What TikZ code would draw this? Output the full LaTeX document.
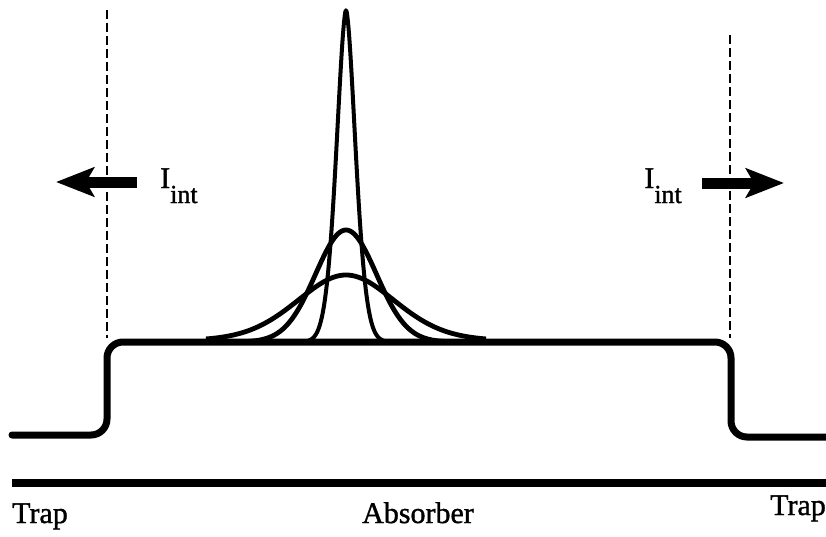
\documentclass[tikz,border=0pt]{standalone}
\usepackage{fontspec}
\setmainfont{Liberation Serif}[FakeBold=1.2]
\usetikzlibrary{arrows.meta}
\begin{document}
\begin{tikzpicture}[x=1pt,y=-1pt,
  profile/.style={line width=7pt,rounded corners=16pt,line cap=round},
  peak/.style={line width=4.8pt,line join=round},
  boundary/.style={line width=2.4pt,dash pattern=on 9pt off 4pt},
  flux/.style={line width=11pt,-{Stealth[length=38pt,width=29pt,inset=8pt]}},
  lbl/.style={inner sep=0pt,font=\fontsize{30}{33}\selectfont}]
\useasboundingbox (0,0) rectangle (826,536);
% coordinates
\coordinate (l0) at (12,435);
\coordinate (l1) at (107,435);
\coordinate (l2) at (107,342);
\coordinate (r2) at (731,342);
\coordinate (r1) at (731,437);
\coordinate (r0) at (826,437);
\coordinate (dlt) at (107,10);
\coordinate (dlb) at (107,338);
\coordinate (drt) at (730,35);
\coordinate (drb) at (730,338);
\coordinate (bl) at (12,483);
\coordinate (br) at (826,483);
\coordinate (al0) at (137,182);
\coordinate (al1) at (56,182);
\coordinate (ar0) at (702,183);
\coordinate (ar1) at (784,183);
% boundaries
\draw[boundary] (dlt) -- (dlb);
\draw[boundary] (drt) -- (drb);
% profile
\draw[profile] (l0) -- (l1) -- (l2) -- (r2) -- (r1) -- (r0);
% bottom bar
\draw[line width=8pt] (bl) -- (br);
% peaks
\draw[peak] plot[domain=206:486,samples=140] (\x,{342-67*(0.8*exp(-((\x-346)/70)^2)+0.2/(1+((\x-346)/60)^2))});
\draw[peak] plot[domain=226:466,samples=140] (\x,{342-112*exp(-((\x-346)/43)^2)});
\draw[peak,line width=4pt] plot[domain=304:388,samples=160] (\x,{342-332*exp(-(abs(\x-346)/13.8)^1.7)});
% arrows
\draw[flux] (al0) -- (al1);
\draw[flux] (ar0) -- (ar1);
% labels
\node[lbl,anchor=base west] (il) at (160,188) {I\raisebox{-15pt}{\fontsize{26}{28}\selectfont int}};
\node[lbl,anchor=base east] (ir) at (682,188) {I\raisebox{-15pt}{\fontsize{26}{28}\selectfont int}};
\node[lbl,anchor=base west] (tl) at (12,523) {Trap};
\node[lbl,anchor=base] (ab) at (418,523) {Absorber};
\node[lbl,anchor=base east] (tr) at (826,515) {Trap};
\end{tikzpicture}
\end{document}
